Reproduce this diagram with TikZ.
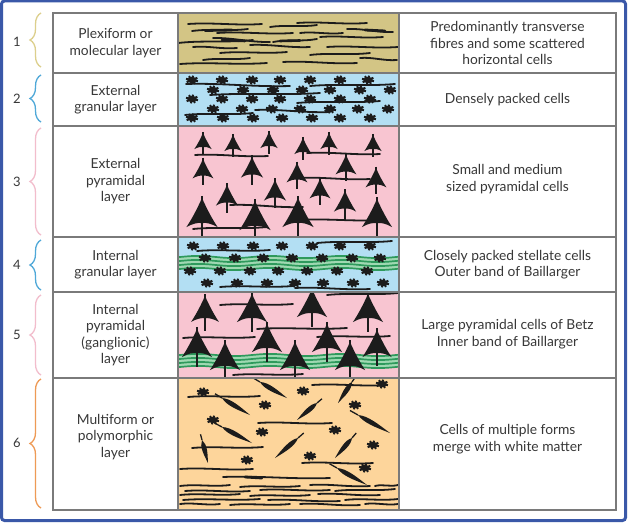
\documentclass[tikz,border=0pt]{standalone}
\usepackage{fontspec}
\setmainfont{Lato}
\usetikzlibrary{calc,decorations.pathreplacing}
\definecolor{frameblue}{HTML}{3A58A8}
\definecolor{gridgray}{HTML}{7A7A7A}
\definecolor{txt}{HTML}{383838}
\definecolor{olivel}{HTML}{D3C585}
\definecolor{skyl}{HTML}{B3DFF3}
\definecolor{pinkl}{HTML}{F8C5D1}
\definecolor{orngl}{HTML}{FDD59B}
\definecolor{bandg}{HTML}{2E9A5C}
\definecolor{bandl}{HTML}{9FD8B2}
\definecolor{cellk}{HTML}{1C1C1C}
\definecolor{brA}{HTML}{DCCF8C}
\definecolor{brB}{HTML}{4FA8D8}
\definecolor{brC}{HTML}{F2BDCC}
\definecolor{brD}{HTML}{EE9A55}
\tikzset{
  fib/.style={cellk, line width=1.8pt, line cap=round},
  cellline/.style={cellk, line width=1.6pt},
  gridline/.style={gridgray, line width=1.1pt},
  lefttext/.style={text=txt, align=center, font=\fontsize{13.8}{16.6}\selectfont},
  numtext/.style={text=txt, font=\fontsize{13}{15}\selectfont},
  bandline/.style={bandg, line width=1.7pt},
  bracestyle/.style={line width=1.3pt, decorate, decoration={brace, amplitude=11pt}},
}
\newcommand\Fib[4]{\draw[fib] (#1,#2) .. controls ($(#1,#2)!0.33!(#3,#4)+(0,-1.8)$) and ($(#1,#2)!0.66!(#3,#4)+(0,1.8)$) .. (#3,#4);}
\newcommand\Stel[2]{\fill[cellk] (#1,#2) ellipse (4.6 and 3.2);
  \draw[cellk, line width=2pt] (#1,#2) -- ++(15:6.2 and 4.4) (#1,#2) -- ++(60:6.2 and 4.4) (#1,#2) -- ++(100:6.2 and 4.4) (#1,#2) -- ++(150:6.2 and 4.4) (#1,#2) -- ++(195:6.2 and 4.4) (#1,#2) -- ++(240:6.2 and 4.4) (#1,#2) -- ++(280:6.2 and 4.4) (#1,#2) -- ++(330:6.2 and 4.4);}
\newcommand\Pyr[3]{%
  \begin{scope}[shift={(#1,#2)}, scale=#3]
  \fill[cellk] (0,-1) .. controls (0.18,-0.6) and (0.36,-0.25) .. (0.58,0.08) .. controls (0.36,-0.05) and (0.14,-0.1) .. (0,-0.07) .. controls (-0.14,-0.1) and (-0.36,-0.05) .. (-0.58,0.08) .. controls (-0.36,-0.25) and (-0.18,-0.6) .. (0,-1) -- cycle;
  \end{scope}
  \draw[cellline] (#1,{#2-1.08*#3}) -- (#1,{#2+0.45*#3});}
\newcommand\Spin[4]{%
  \coordinate (sa) at (#1,#2); \coordinate (sb) at (#3,#4);
  \fill[cellk] (sa) .. controls ($(sa)!0.25!(sb)!4.2pt!90:(sb)$) and ($(sa)!0.6!(sb)!2pt!90:(sb)$) .. (sb) .. controls ($(sa)!0.6!(sb)!-2pt!90:(sb)$) and ($(sa)!0.25!(sb)!-4.2pt!90:(sb)$) .. (sa) -- cycle;
  \draw[cellk, line width=1.3pt] (sa) -- ($(sa)!-0.25!(sb)$);}
\newcommand\Band[1]{\fill[bandl] plot[domain=178:399, samples=45, smooth] (\x, {#1+1.1*sin(\x*5)}) -- plot[domain=399:178, samples=45, smooth] (\x, {#1+12+1.1*sin(\x*5)}) -- cycle;
  \foreach \k in {0,1,2,3}
  {\draw[bandline] plot[domain=178:399, samples=45, smooth] (\x, {#1+4*\k+1.1*sin(\x*5)});}}
\begin{document}
\begin{tikzpicture}[x=1pt, y=-1pt]
\useasboundingbox (0,0) rectangle (629,524);
\fill[white] (0,0) rectangle (629,524);
\draw[frameblue, line width=3pt, rounded corners=3pt] (1.5,1) rectangle (625.5,520.5);
% layer backgrounds
\fill[olivel] (178,13) rectangle (399,73);
\fill[skyl] (178,73) rectangle (399,126);
\fill[pinkl] (178,126) rectangle (399,237);
\fill[skyl] (178,237) rectangle (399,292);
\fill[pinkl] (178,292) rectangle (399,378);
\fill[orngl] (178,378) rectangle (399,510);
% layer 1
\begin{scope}
\clip (178,13) rectangle (399,73);
\Fib{188}{24}{262}{24} \Fib{192}{31}{248}{29} \Fib{270}{27}{317}{25} \Fib{297}{23}{367}{23}
\Fib{347}{29}{393}{32} \Fib{217}{33}{293}{33} \Fib{300}{33}{343}{33} \Fib{178}{43}{253}{40}
\Fib{213}{38}{270}{42} \Fib{273}{42}{317}{39} \Fib{320}{37}{383}{37} \Fib{193}{47}{237}{48}
\Fib{250}{45}{310}{47} \Fib{327}{47}{398}{47} \Fib{220}{53}{287}{52} \Fib{310}{55}{370}{53}
\Fib{203}{60}{250}{58} \Fib{180}{64}{267}{63} \Fib{283}{62}{357}{63} \Fib{360}{58}{397}{60}
\draw[cellk, line width=2.8pt, line cap=round] (205,30.5) -- (232,30);
\draw[cellk, line width=2.8pt, line cap=round] (365,30) -- (385,31);
\draw[cellk, line width=2.6pt, line cap=round] (222,40) -- (245,41);
\draw[cellk, line width=2.6pt, line cap=round] (280,41) -- (300,40.5);
\end{scope}
% layer 2
\begin{scope}
\clip (178,73) rectangle (399,126);
\Fib{186}{84}{290}{86} \Fib{310}{86}{395}{84} \Fib{210}{95}{320}{93} \Fib{297}{103}{380}{101}
\Fib{185}{115}{253}{113} \Fib{255}{110}{330}{112}
\foreach \xx in {192,222,252,280,310,340,368} {\Stel{\xx}{80}}
\foreach \xx in {213,243,273,302,330,360,390} {\Stel{\xx}{90}}
\foreach \xx in {192,222,252,280,310,340,370} {\Stel{\xx}{99}}
\foreach \xx in {213,242,272,300,330,358,388} {\Stel{\xx}{109}}
\foreach \xx in {192,223,253,282,312,340,370} {\Stel{\xx}{118}}
\end{scope}
% layer 3
\begin{scope}
\clip (178,126) rectangle (399,237);
\Fib{195}{155}{268}{156} \Fib{307}{153}{380}{154} \Fib{297}{178}{370}{179}
\Fib{230}{205}{303}{207} \Fib{300}{220}{383}{220} \Fib{193}{229}{267}{227}
\Pyr{203}{148}{15} \Pyr{233}{150}{15} \Pyr{269}{147}{15} \Pyr{303}{153}{15} \Pyr{329}{148}{15} \Pyr{373}{150}{15}
\Pyr{203}{177}{18} \Pyr{252}{176}{19} \Pyr{297}{181}{18} \Pyr{346}{173}{18} \Pyr{376}{186}{18}
\Pyr{227}{204}{19} \Pyr{275}{199}{19} \Pyr{320}{197}{18} \Pyr{345}{210}{19}
\Pyr{202}{225}{27} \Pyr{255}{228}{27} \Pyr{298}{225}{27} \Pyr{377}{225}{26}
\end{scope}
% layer 4
\begin{scope}
\clip (178,237) rectangle (399,292);
\Band{257}
\Fib{197}{251}{270}{250} \Fib{317}{243}{392}{241} \Fib{220}{287}{293}{286} \Fib{295}{288}{370}{289}
\foreach \xx in {193,223,253,282,312,340,370} {\Stel{\xx}{246}}
\foreach \xx in {205,235,263,292,322,352,380} {\Stel{\xx}{258}}
\foreach \xx in {190,220,250,278,307,337,367} {\Stel{\xx}{271}}
\foreach \xx in {207,237,267,295,323,353,383} {\Stel{\xx}{283}}
\end{scope}
% layer 5
\begin{scope}
\clip (178,292) rectangle (399,378);
\Band{355}
\Fib{220}{305}{293}{304} \Fib{327}{295}{398}{293} \Fib{257}{329}{347}{328}
\Fib{183}{338}{255}{337} \Fib{317}{337}{390}{336} \Fib{233}{375}{303}{374}
\Pyr{205}{320}{24} \Pyr{252}{320}{26} \Pyr{312}{315}{26} \Pyr{368}{320}{26}
\Pyr{197}{355}{26} \Pyr{267}{350}{26} \Pyr{327}{350}{26} \Pyr{377}{355}{25}
\Pyr{225}{368}{26} \Pyr{295}{368}{26} \Pyr{350}{368}{26}
\end{scope}
% layer 6
\begin{scope}
\clip (178,378) rectangle (399,510);
\Fib{188}{397}{260}{396} \Fib{312}{385}{387}{385} \Fib{258}{423}{332}{423} \Fib{192}{448}{263}{447}
\Fib{180}{469}{253}{469} \Fib{302}{463}{373}{463} \Fib{223}{477}{330}{478}
\Fib{180}{486}{230}{485} \Fib{240}{487}{300}{486} \Fib{310}{485}{370}{486} \Fib{375}{486}{398}{485}
\Fib{185}{491}{250}{491} \Fib{260}{490}{330}{490} \Fib{335}{491}{395}{489}
\Fib{180}{495}{240}{494} \Fib{250}{496}{310}{495} \Fib{318}{494}{380}{495}
\Fib{183}{500}{260}{499} \Fib{268}{500}{340}{501} \Fib{345}{500}{398}{499}
\Fib{180}{504}{220}{504} \Fib{230}{505}{290}{504} \Fib{300}{504}{360}{505} \Fib{365}{504}{398}{504}
\Spin{260}{382}{287}{398} \Spin{352}{382}{338}{403} \Spin{222}{398}{250}{415} \Spin{317}{403}{297}{420}
\Spin{358}{415}{390}{433} \Spin{222}{427}{252}{443} \Spin{202}{440}{208}{463} \Spin{298}{438}{275}{458}
\Spin{352}{438}{335}{458} \Spin{337}{468}{367}{485}
\draw[cellk, line width=2.8pt, line cap=round] (245,477) -- (262,478);
\Stel{203}{392} \Stel{303}{391} \Stel{382}{384} \Stel{265}{405} \Stel{355}{405} \Stel{213}{420}
\Stel{262}{432} \Stel{335}{430} \Stel{373}{445} \Stel{247}{460} \Stel{310}{456} \Stel{365}{468}
\end{scope}
% table grid
\draw[gridline] (53,13) rectangle (616,510);
\foreach \yy in {73,126,237,292,378} {\draw[gridline] (53,\yy) -- (616,\yy);}
\draw[gridline] (178,13) -- (178,510);
\draw[gridline] (399,13) -- (399,510);
% left texts
\node[lefttext] (l1) at (115.5,43) {Plexiform or\\molecular layer};
\node[lefttext] (l2) at (115.5,99.5) {External\\granular layer};
\node[lefttext] (l3) at (115.5,181.5) {External\\pyramidal\\layer};
\node[lefttext] (l4) at (115.5,264.5) {Internal\\granular layer};
\node[lefttext] (l5) at (115.5,335) {Internal\\pyramidal\\(ganglionic)\\layer};
\node[lefttext] (l6) at (115.5,437) {Multiform or\\polymorphic\\layer};
% right texts
\node[lefttext] (r1) at (507.5,43) {Predominantly transverse\\fibres and some scattered\\horizontal cells};
\node[lefttext] (r2) at (507.5,99.5) {Densely packed cells};
\node[lefttext] (r3) at (507.5,179) {Small and medium\\sized pyramidal cells};
\node[lefttext] (r4) at (507.5,264.5) {Closely packed stellate cells\\Outer band of Baillarger};
\node[lefttext] (r5) at (507.5,334) {Large pyramidal cells of Betz\\Inner band of Baillarger};
\node[lefttext] (r6) at (507.5,439) {Cells of multiple forms\\merge with white matter};
% braces and numbers
\draw[bracestyle, brA] (41,67) -- (41,13);
\draw[bracestyle, brB] (41,122) -- (41,75);
\draw[bracestyle, brC] (41,235) -- (41,128);
\draw[bracestyle, brB] (41,290) -- (41,240);
\draw[bracestyle, brC] (41,375) -- (41,295);
\draw[bracestyle, brD] (41,508) -- (41,379);
\node[numtext] (n1) at (17,42) {1};
\node[numtext] (n2) at (17,99) {2};
\node[numtext] (n3) at (17,182) {3};
\node[numtext] (n4) at (17,265) {4};
\node[numtext] (n5) at (17,335) {5};
\node[numtext] (n6) at (17,443) {6};
\end{tikzpicture}
\end{document}
